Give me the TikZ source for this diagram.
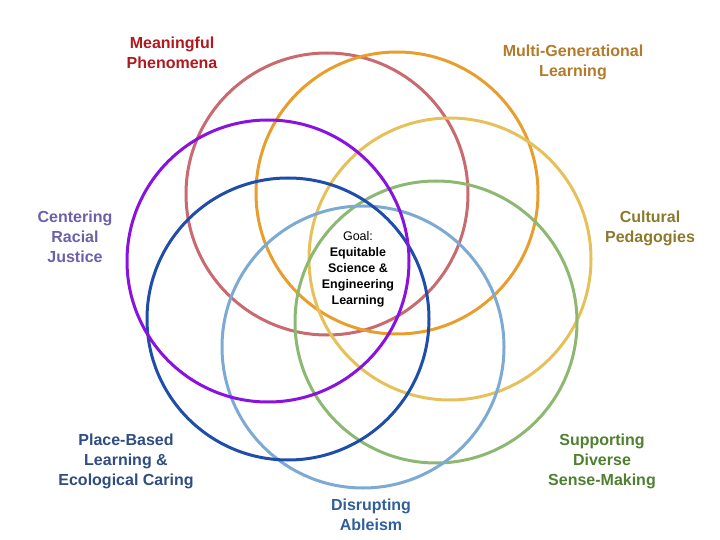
\documentclass[tikz,border=0pt]{standalone}
\usepackage{fontspec}
\setmainfont{Liberation Sans}
\definecolor{phenred}{HTML}{C86A6F}
\definecolor{genorange}{HTML}{E89E2C}
\definecolor{cultyellow}{HTML}{E6C15A}
\definecolor{sensegreen}{HTML}{8DB872}
\definecolor{ablblue}{HTML}{7DAAD5}
\definecolor{placeblue}{HTML}{1F4DAA}
\definecolor{justpurple}{HTML}{8A12E0}
\definecolor{phentext}{HTML}{B0191E}
\definecolor{gentext}{HTML}{B47A2A}
\definecolor{culttext}{HTML}{8B7A2B}
\definecolor{justtext}{HTML}{6E5FA8}
\definecolor{placetext}{HTML}{2F4D80}
\definecolor{abltext}{HTML}{2F609A}
\definecolor{sensetext}{HTML}{4E8030}
\begin{document}
\begin{tikzpicture}[x=1pt,y=-1pt,
  ring/.style={line width=3pt},
  lbl/.style={font=\fontsize{16}{20}\selectfont\bfseries,align=center}]
\useasboundingbox (0,0) rectangle (720,540);
\coordinate (phen) at (327,194);
\coordinate (gen) at (397,193);
\coordinate (cult) at (450,259);
\coordinate (sense) at (436,322);
\coordinate (abl) at (363,347);
\coordinate (place) at (288,319);
\coordinate (just) at (268,261);
\draw[ring,phenred] (phen) circle[radius=141];
\draw[ring,genorange] (gen) circle[radius=141];
\draw[ring,cultyellow] (cult) circle[radius=141];
\draw[ring,sensegreen] (sense) circle[radius=141];
\draw[ring,ablblue] (abl) circle[radius=141];
\draw[ring,placeblue] (place) circle[radius=141];
\draw[ring,justpurple] (just) circle[radius=141];
\node[lbl,phentext] (phenlbl) at (172,53) {Meaningful\\Phenomena};
\node[lbl,gentext] (genlbl) at (573,62) {Multi-Generational\\Learning};
\node[lbl,culttext] (cultlbl) at (650,228) {Cultural\\Pedagogies};
\node[lbl,justtext] (justlbl) at (75,237) {Centering\\Racial\\Justice};
\node[lbl,placetext] (placelbl) at (126,461) {Place-Based\\Learning \&\\Ecological Caring};
\node[lbl,abltext] (abllbl) at (371,515) {Disrupting\\Ableism};
\node[lbl,sensetext] (senselbl) at (602,461) {Supporting\\Diverse\\Sense-Making};
\node[font=\fontsize{12.5}{16}\selectfont,align=center] (goal) at (358,269)
  {Goal:\\\textbf{Equitable}\\\textbf{Science \&}\\\textbf{Engineering}\\\textbf{Learning}};
\end{tikzpicture}
\end{document}
